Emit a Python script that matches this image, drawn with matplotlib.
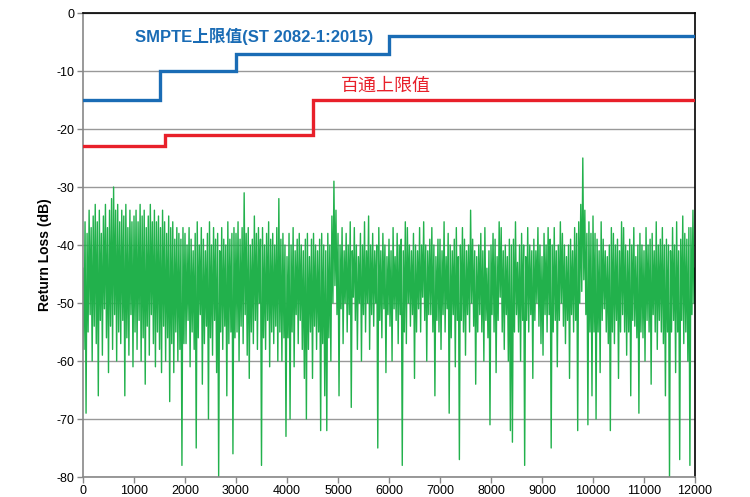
import numpy as np
import matplotlib
matplotlib.use("Agg")
import matplotlib.pyplot as plt

plt.rcParams['font.family'] = ['Liberation Sans', 'Noto Sans CJK SC', 'DejaVu Sans']
plt.rcParams['axes.unicode_minus'] = False

# Step limits
smpte_freq = [0, 1500, 1500, 3000, 3000, 6000, 6000, 12000]
smpte_val = [-15, -15, -10, -10, -7, -7, -4, -4]
belden_freq = [0, 1600, 1600, 4500, 4500, 12000]
belden_val = [-23, -23, -21, -21, -15, -15]

# Measured return loss (dB), sampled every 20 Hz from 0 to 12000 Hz
meas_step = 20
meas_rl = [
    # 0 - 980
    -44, -58, -36, -69, -38, -55, -34, -52, -37, -60,
    -35, -54, -33, -57, -36, -66, -34, -53, -38, -59,
    -35, -51, -33, -56, -37, -62, -34, -54, -32, -58,
    -30, -52, -34, -60, -33, -55, -36, -57, -34, -53,
    -35, -66, -33, -56, -37, -59, -34, -52, -36, -61,
    # 1000 - 1980
    -35, -55, -34, -58, -36, -53, -33, -60, -35, -56,
    -34, -64, -37, -54, -35, -59, -33, -52, -36, -57,
    -34, -61, -36, -55, -35, -58, -37, -62, -34, -54,
    -36, -60, -38, -56, -35, -67, -37, -57, -36, -62,
    -39, -55, -37, -60, -38, -58, -39, -78, -37, -57,
    # 2000 - 2980
    -38, -57, -40, -53, -37, -61, -39, -55, -41, -58,
    -38, -75, -36, -56, -40, -52, -37, -64, -39, -57,
    -41, -54, -38, -70, -36, -56, -40, -59, -37, -53,
    -39, -62, -38, -80, -41, -55, -37, -58, -39, -54,
    -40, -66, -36, -57, -39, -55, -38, -76, -37, -56,
    # 3000 - 3980
    -38, -55, -36, -60, -39, -54, -37, -57, -31, -52,
    -38, -59, -37, -63, -40, -55, -39, -57, -35, -53,
    -38, -58, -37, -50, -39, -78, -37, -56, -40, -58,
    -38, -53, -36, -61, -39, -55, -38, -57, -40, -54,
    -37, -60, -32, -55, -39, -60, -38, -56, -40, -73,
    # 4000 - 4980
    -42, -56, -38, -70, -40, -55, -37, -61, -41, -52,
    -39, -57, -38, -53, -40, -58, -41, -63, -39, -70,
    -38, -58, -42, -55, -39, -63, -38, -54, -40, -58,
    -41, -55, -39, -72, -38, -57, -40, -66, -41, -72,
    -38, -56, -40, -60, -35, -50, -29, -47, -34, -52,
    # 5000 - 5980
    -38, -66, -40, -51, -37, -57, -41, -50, -38, -55,
    -40, -52, -36, -68, -41, -49, -37, -53, -40, -58,
    -42, -50, -38, -60, -40, -52, -36, -55, -41, -50,
    -35, -58, -40, -52, -38, -54, -41, -50, -40, -75,
    -37, -53, -41, -56, -38, -51, -40, -62, -42, -52,
    # 6000 - 6980
    -39, -54, -41, -60, -37, -51, -42, -53, -38, -57,
    -40, -52, -39, -78, -41, -55, -36, -57, -37, -50,
    -40, -54, -41, -52, -38, -63, -40, -55, -41, -51,
    -37, -55, -40, -49, -36, -53, -40, -60, -41, -52,
    -39, -52, -37, -55, -40, -66, -42, -53, -39, -55,
    # 7000 - 7980
    -39, -58, -41, -52, -36, -55, -42, -51, -38, -69,
    -40, -56, -41, -52, -39, -61, -37, -53, -42, -77,
    -40, -53, -37, -55, -39, -59, -41, -52, -40, -55,
    -34, -50, -39, -54, -41, -64, -42, -55, -40, -52,
    -38, -55, -41, -60, -37, -53, -44, -56, -41, -71,
    # 8000 - 8980
    -40, -52, -38, -55, -39, -62, -42, -53, -36, -49,
    -37, -55, -41, -58, -40, -52, -42, -60, -39, -72,
    -40, -74, -39, -55, -36, -52, -43, -55, -40, -60,
    -38, -53, -40, -78, -42, -53, -37, -55, -40, -52,
    -41, -63, -39, -53, -41, -50, -37, -54, -40, -57,
    # 9000 - 9980
    -42, -59, -38, -52, -40, -55, -37, -52, -39, -75,
    -40, -55, -37, -53, -41, -61, -40, -53, -36, -50,
    -38, -54, -40, -57, -42, -53, -40, -63, -39, -52,
    -41, -55, -37, -53, -38, -72, -36, -50, -33, -48,
    -25, -46, -34, -52, -38, -71, -36, -55, -38, -66,
    # 10000 - 10980
    -35, -55, -38, -70, -39, -55, -41, -62, -36, -53,
    -39, -51, -41, -55, -42, -57, -40, -72, -37, -55,
    -38, -57, -40, -53, -39, -63, -41, -55, -36, -52,
    -37, -55, -40, -59, -41, -55, -39, -66, -40, -53,
    -37, -54, -42, -56, -40, -69, -38, -55, -40, -56,
    # 11000 - 12000
    -41, -60, -37, -53, -40, -55, -39, -64, -38, -52,
    -41, -55, -36, -58, -40, -53, -39, -55, -37, -57,
    -40, -66, -39, -55, -40, -80, -41, -55, -37, -53,
    -40, -62, -36, -55, -41, -77, -39, -53, -35, -57,
    -38, -55, -39, -60, -37, -78, -37, -52, -34, -50,
    -44,
]
meas_freq = np.arange(len(meas_rl)) * meas_step

x_ticks = list(range(0, 12001, 1000))
y_ticks = list(range(-80, 1, 10))

fig = plt.figure(figsize=(7.5, 4.97), dpi=100)
ax = fig.add_axes([83/750, 20/497, 612/750, 464/497])

ax.plot(meas_freq, meas_rl, color='#22b14c', lw=1.0, zorder=2)
ax.plot(smpte_freq, smpte_val, color='#1a6cb5', lw=2.4, zorder=3, solid_joinstyle='miter')
ax.plot(belden_freq, belden_val, color='#e8202a', lw=2.4, zorder=3, solid_joinstyle='miter')

ax.set_xlim(0, 12000)
ax.set_ylim(-80, 0)
ax.set_xticks(x_ticks)
ax.set_yticks(y_ticks)
ax.tick_params(axis='both', labelsize=9, color='#888888', length=4, width=1, pad=2)
ax.grid(axis='y', color='#999999', lw=1, zorder=1)
ax.set_axisbelow(True)

for s in ['top', 'right']:
    ax.spines[s].set_color('black')
    ax.spines[s].set_linewidth(1.2)
for s in ['left', 'bottom']:
    ax.spines[s].set_color('#888888')
    ax.spines[s].set_linewidth(1.2)

ax.set_ylabel('Return Loss (dB)', fontsize=10, fontweight='bold')
ax.yaxis.set_label_coords(-0.051, 0.48)

ax.text(1020, -4.1, 'SMPTE上限值(ST 2082-1:2015)', color='#1a6cb5', fontsize=12,
        fontweight='bold', va='center', ha='left')
ax.text(5060, -12.6, '百通上限值', color='#e8202a', fontsize=13, va='center', ha='left')

fig.savefig('out.png', dpi=100)
